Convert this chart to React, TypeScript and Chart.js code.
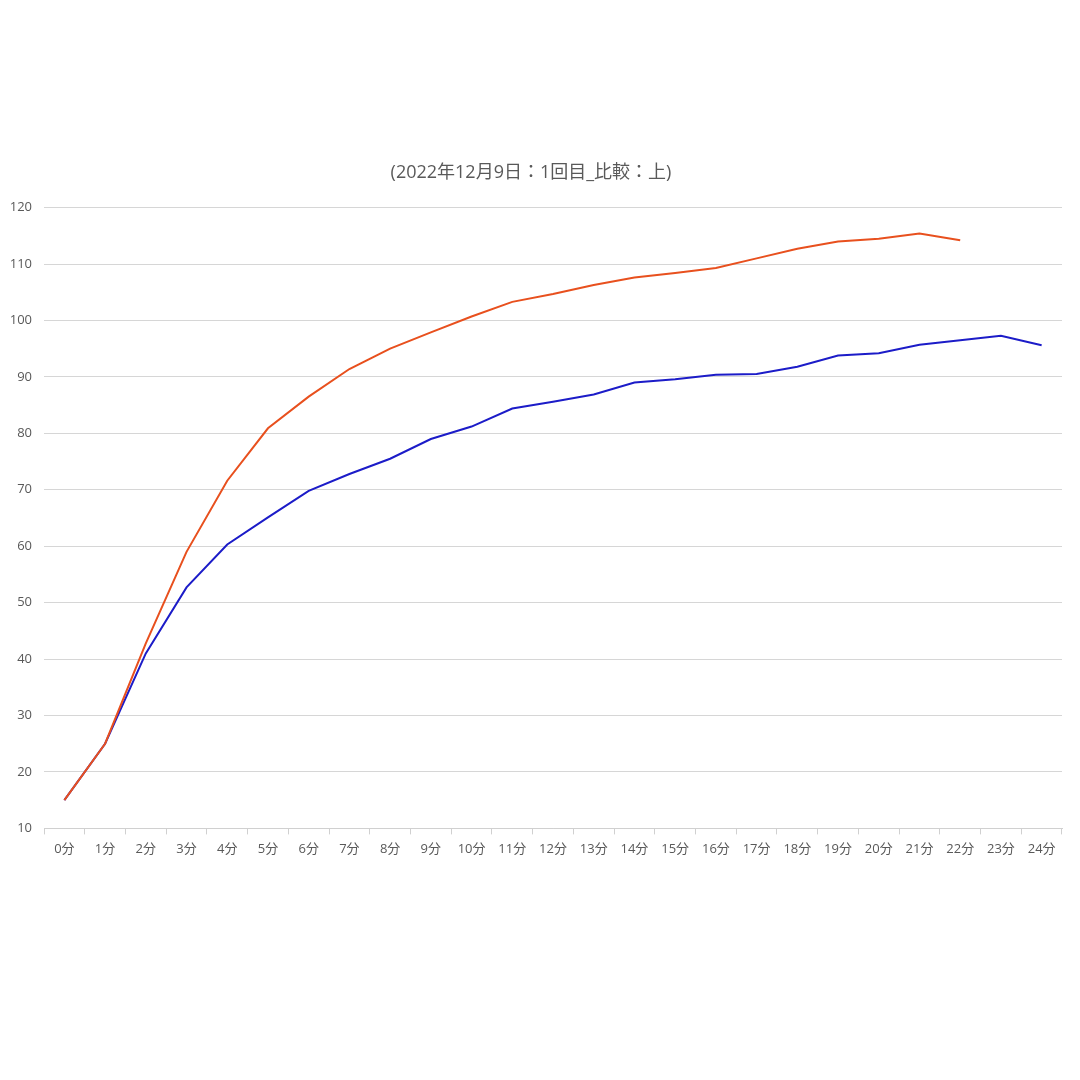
import React, { useEffect, useRef } from "react";
import { Chart, registerables } from "chart.js";

Chart.register(...registerables);

const categories = ["0分","1分","2分","3分","4分","5分","6分","7分","8分","9分","10分","11分","12分","13分","14分","15分","16分","17分","18分","19分","20分","21分","22分","23分","24分"];
const orangeSeries = [15, 25, 42.8, 59, 71.6, 80.9, 86.5, 91.4, 95, 97.9, 100.7, 103.3, 104.7, 106.3, 107.6, 108.4, 109.3, 111, 112.7, 114, 114.5, 115.4, 114.2, null, null];
const blueSeries = [15, 25, 41, 52.7, 60.3, 65.1, 69.8, 72.8, 75.5, 79, 81.2, 84.4, 85.6, 86.9, 89, 89.6, 90.4, 90.5, 91.8, 93.8, 94.2, 95.7, 96.5, 97.3, 95.6];
const titleText = "(2022年12月9日：1回目_比較：上)";
const yMin = 10;
const yMax = 120;
const yStep = 10;

export default function App() {
  const ref = useRef<HTMLCanvasElement>(null);
  useEffect(() => {
    document.body.style.margin = "0";
    const ctx = ref.current!;
    const font = '"Open Sans", "Noto Sans CJK JP", sans-serif';
    const chart = new Chart(ctx, {
      type: "line",
      data: {
        labels: categories,
        datasets: [
          { label: "A", data: orangeSeries, borderColor: "#E8501E", backgroundColor: "#E8501E", borderWidth: 2, pointRadius: 0, tension: 0, spanGaps: false },
          { label: "B", data: blueSeries, borderColor: "#1C1CC8", backgroundColor: "#1C1CC8", borderWidth: 2, pointRadius: 0, tension: 0 },
        ],
      },
      options: {
        responsive: false,
        animation: false,
        layout: { padding: { top: 162, left: 0, right: 18, bottom: 216 } },
        plugins: {
          legend: { display: false },
          tooltip: { enabled: false },
          title: {
            display: true,
            text: titleText,
            color: "#595959",
            font: { family: font, size: 18, weight: "normal" },
            padding: { top: 0, bottom: 24 },
          },
        },
        scales: {
          x: {
            offset: true,
            grid: { offset: true, drawOnChartArea: false, drawTicks: true, tickLength: 6, color: "#d0d0d0" },
            border: { color: "#d0d0d0" },
            ticks: { color: "#595959", font: { family: font, size: 13 }, maxRotation: 0, autoSkip: false, padding: 7 },
          },
          y: {
            min: yMin,
            max: yMax,
            ticks: { stepSize: yStep, color: "#595959", font: { family: font, size: 13 }, padding: 12 },
            grid: { color: "#d6d6d6", drawTicks: false },
            border: { display: false },
            afterFit: (s: any) => { s.width = 44; },
          },
        },
      },
    });
    return () => chart.destroy();
  }, []);
  return <canvas ref={ref} width={1080} height={1080} style={{ display: "block", width: 1080, height: 1080 }} />;
}
